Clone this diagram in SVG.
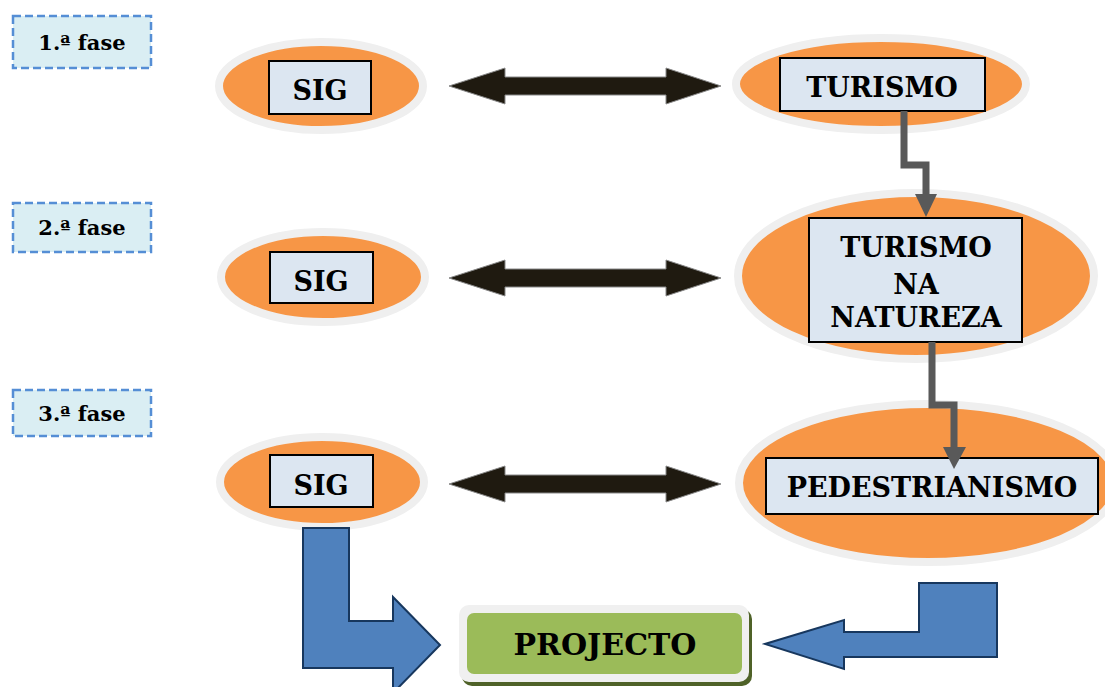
<svg xmlns="http://www.w3.org/2000/svg" width="1105" height="687" viewBox="0 0 1105 687">
<style>
.phase{fill:#daeef3;stroke:#558ed5;stroke-width:2.5;stroke-dasharray:8 4}
.ell{fill:#f79646;stroke:#efefef;stroke-width:8}
.box{fill:#dce6f1;stroke:#000;stroke-width:2}
.t{font-family:"DejaVu Serif","Liberation Serif",serif;font-weight:bold;font-size:27px;fill:#000;text-anchor:middle}
.pt{font-family:"DejaVu Serif","Liberation Serif",serif;font-weight:bold;font-size:21px;fill:#000;text-anchor:middle}
.dbl{fill:#1f1a10;stroke:#888;stroke-width:1}
.elbow{fill:none;stroke:#595959;stroke-width:7}
.head{fill:#595959}
.blue{fill:#4f81bd;stroke:#17375e;stroke-width:2}
</style>
<defs>
<path id="darr" d="M0,0 L56,-18 L56,-9 L217,-9 L217,-18 L272,0 L217,18 L217,9 L56,9 L56,18 Z"/>
</defs>
<g id="phase1"><rect class="phase" x="13" y="16" width="138" height="52"/><text class="pt" x="82" y="50">1.ª fase</text></g>
<g id="phase2"><rect class="phase" x="13" y="203" width="138" height="49"/><text class="pt" x="82" y="235">2.ª fase</text></g>
<g id="phase3"><rect class="phase" x="13" y="390" width="138" height="46"/><text class="pt" x="82" y="421">3.ª fase</text></g>

<g id="sig1"><ellipse class="ell" cx="321" cy="86" rx="102" ry="44"/><rect class="box" x="269" y="61" width="102" height="53"/><text class="t" x="320" y="100">SIG</text></g>
<g id="sig2"><ellipse class="ell" cx="323" cy="277" rx="102" ry="45"/><rect class="box" x="270" y="252" width="103" height="51"/><text class="t" x="321" y="291">SIG</text></g>
<g id="sig3"><ellipse class="ell" cx="322" cy="482" rx="102" ry="45"/><rect class="box" x="270" y="455" width="103" height="52"/><text class="t" x="321" y="495">SIG</text></g>

<g id="turismo"><ellipse class="ell" cx="881" cy="84" rx="145" ry="46"/><rect class="box" x="780" y="58" width="205" height="53"/><text class="t" x="882" y="97">TURISMO</text></g>
<g id="natureza"><ellipse class="ell" cx="916" cy="276" rx="178" ry="83"/><rect class="box" x="809" y="218" width="213" height="124"/><text class="t" x="916" y="257">TURISMO</text><text class="t" x="916" y="294">NA</text><text class="t" x="916" y="327">NATUREZA</text></g>
<g id="pedestrianismo"><ellipse class="ell" cx="928" cy="483" rx="189" ry="79"/><rect class="box" x="766" y="458" width="332" height="56"/><text class="t" x="932" y="497">PEDESTRIANISMO</text></g>

<g id="projecto"><rect x="462" y="609" width="290" height="77" rx="10" fill="#4f6228"/><rect x="459" y="605" width="290" height="77" rx="10" fill="#f0f0f0"/><rect x="467" y="613" width="275" height="61" rx="7" fill="#9bbb59"/><text class="t" x="605" y="655" style="font-size:30px">PROJECTO</text></g>

<g id="connectors">
<use href="#darr" class="dbl" transform="translate(449,86)"/>
<use href="#darr" class="dbl" transform="translate(449,278)"/>
<use href="#darr" class="dbl" transform="translate(449,484)"/>
<path class="elbow" d="M904,111 L904,165 L926,165 L926,196"/>
<path class="head" d="M915,194 L937,194 L926,217 Z"/>
<path class="elbow" d="M932,342 L932,405 L954,405 L954,449"/>
<path class="head" d="M943,447 L966,447 L954,469 Z"/>
<path class="blue" d="M303,528 L349,528 L349,621 L393,621 L393,597 L440,645 L393,693 L393,668 L303,668 Z"/>
<path class="blue" d="M919,583 L997,583 L997,657 L844,657 L844,669 L765,644 L844,620 L844,632 L919,632 Z"/>
</g>
</svg>
